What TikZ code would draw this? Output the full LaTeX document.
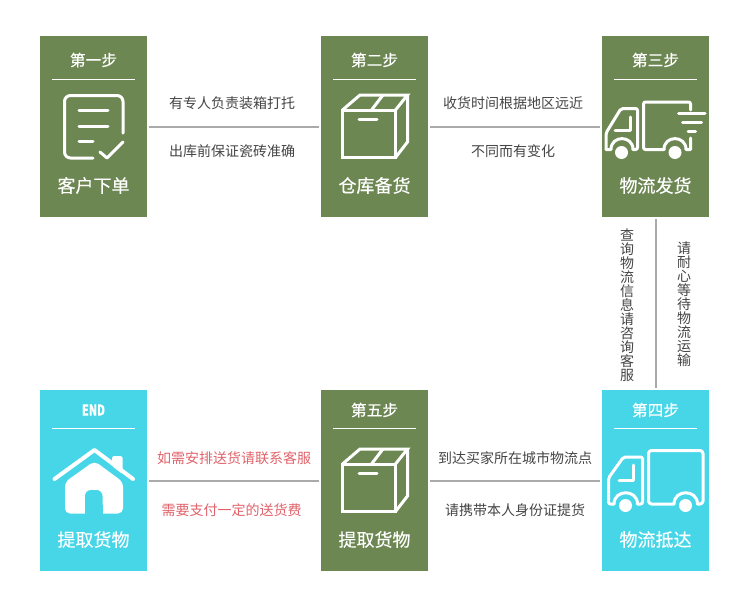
\documentclass[tikz,border=0pt]{standalone}
\usepackage{fontspec}
\setmainfont{Noto Sans CJK SC}
\newfontfamily\stepfont[FakeBold=0.2]{Noto Sans CJK SC}
\definecolor{stepgreen}{HTML}{6D8753}
\definecolor{stepcyan}{HTML}{47D6E8}
\definecolor{linkgray}{HTML}{AAAAAA}
\definecolor{notegray}{HTML}{444444}
\definecolor{notered}{HTML}{E0626A}
\tikzset{
    stepbox/.style={minimum width=107pt, minimum height=181pt, inner sep=0pt},
    titletext/.style={white, inner sep=0pt, font=\stepfont\fontsize{15.7}{15.7}\selectfont},
    labeltext/.style={white, inner sep=0pt, font=\stepfont\fontsize{18}{18}\selectfont},
    sepline/.style={white, line width=0.8pt},
    linkline/.style={linkgray, line width=2pt, shorten >=2pt, shorten <=2pt},
    notetext/.style={notegray, inner sep=0pt, font=\fontsize{14}{14}\selectfont},
    rednote/.style={notetext, text=notered},
    uptext/.style={notetext, align=center, font=\fontsize{14}{14}\selectfont},
    iconline/.style={white, line width=3pt, line cap=round, line join=round},
}
\begin{document}
\begin{tikzpicture}[x=1pt, y=-1pt]
    \useasboundingbox (0,0) rectangle (750,605);

    % Step boxes with title, rule and label
    \foreach \name/\xx/\yy/\col/\titley/\ruley/\boxtitle/\boxlabel in {
        stepa/93.5/126.5/stepgreen/60/79.5/第一步/客户下单,
        stepb/374.5/126.5/stepgreen/60/79.5/第二步/仓库备货,
        stepc/655.5/126.5/stepgreen/60/79.5/第三步/物流发货,
        stepd/655.5/480.5/stepcyan/410/428.5/第四步/物流抵达,
        stepe/374.5/480.5/stepgreen/410/428.5/第五步/提取货物,
        stepf/93.5/480.5/stepcyan/410/428.5/{\scalebox{0.72}[1]{\fontsize{15}{15}\selectfont\textbf{END}}}/提取货物%
    } {
        \node[stepbox, fill=\col] (\name) at (\xx,\yy) {};
        \node[titletext] (\name title) at (\xx,\titley) {\boxtitle};
        \node[labeltext] (\name label) at (\xx,\yy+59) {\boxlabel};
        \draw[sepline] (\xx-41.5,\ruley) -- (\xx+41.5,\ruley);
    }

    % Links between the steps
    \draw[linkline] (stepa) -- (stepb);
    \draw[linkline] (stepb) -- (stepc);
    \draw[linkline] (stepc) -- (stepd);
    \draw[linkline] (stepd) -- (stepe);
    \draw[linkline] (stepe) -- (stepf);

    % Notes on the links
    \node[notetext] (noteab) at (232,103) {有专人负责装箱打托};
    \node[notetext] (noteba) at (232,151) {出库前保证瓷砖准确};
    \node[notetext] (notebc) at (513,103) {收货时间根据地区远近};
    \node[notetext] (notecb) at (513,151) {不同而有变化};
    \node[notetext] (notede) at (515,458) {到达买家所在城市物流点};
    \node[notetext] (noteed) at (515,510) {请携带本人身份证提货};
    \node[rednote] (noteef) at (234,458) {如需安排送货请联系客服};
    \node[rednote] (notefe) at (231.5,510) {需要支付一定的送货费};
    \node[uptext] (notecd) at (627,305) {查\\询\\物\\流\\信\\息\\请\\咨\\询\\客\\服};
    \node[uptext] (notedc) at (684,304) {请\\耐\\心\\等\\待\\物\\流\\运\\输};

    % Order icon
    \draw[iconline, rounded corners=6pt] (123,133) -- (123,95.5) -- (64.5,95.5) -- (64.5,158) -- (93,158);
    \draw[iconline] (79,110.5) -- (108,110.5);
    \draw[iconline] (79,126) -- (108,126);
    \draw[iconline] (79,141.5) -- (93,141.5);
    \draw[iconline] (100,152) -- (107,158) -- (123,142);

    % Carton icons
    \foreach \dy in {0,354} {
        \begin{scope}[yshift=-\dy pt]
            \draw[iconline, line cap=butt, line join=miter] (342.5,110) rectangle (395.5,157.5);
            \draw[iconline, line cap=butt, line join=miter] (342.5,110) -- (360,95) -- (407.5,95) -- (395.5,110);
            \draw[iconline, line cap=butt, line join=miter] (407.5,95) -- (407.5,142) -- (395.5,157.5);
            \draw[iconline, line cap=butt] (371.5,110) -- (383,95);
            \draw[iconline] (359,119.5) -- (377,119.5);
        \end{scope}
    }

    % Moving truck icon
    \draw[iconline, rounded corners=2pt] (690.5,110) -- (690.5,102) -- (643.5,102) -- (643.5,149.5) -- (664,149.5);
    \draw[iconline] (664,149.5) .. controls (664,135) and (686,135) .. (686,149.5) -- (690.5,149.5) -- (690.5,138);
    \draw[iconline, rounded corners=2pt] (606,149.5) -- (606,133) -- (621,108.5) -- (637.5,108.5) -- (637.5,149.5) -- (633,149.5);
    \draw[iconline] (633,149.5) .. controls (633,135) and (611,135) .. (611,149.5) -- (606,149.5);
    \draw[iconline] (630,117) -- (630,130) -- (615,130);
    \fill[white] (621.5,152.5) circle[radius=6.5pt];
    \fill[white] (675,152.5) circle[radius=6.5pt];
    \draw[iconline] (678.5,113.5) -- (705,113.5);
    \draw[iconline] (682.5,122.5) -- (701.5,122.5);
    \draw[iconline] (688,131.5) -- (695.5,131.5);

    % Arrived truck icon
    \draw[iconline, rounded corners=3pt] (674,504) -- (648.5,504) -- (648.5,450.5) -- (703,450.5) -- (703,504) -- (697.5,504);
    \draw[iconline] (674,504) .. controls (674,489) and (697.5,489) .. (697.5,504);
    \draw[iconline, rounded corners=2pt] (614,504) -- (608.5,504) -- (608.5,478) -- (623.5,457) -- (642.5,457) -- (642.5,504) -- (637.5,504);
    \draw[iconline] (614,504) .. controls (614,489) and (637.5,489) .. (637.5,504);
    \draw[iconline] (633.5,465) -- (633.5,480) -- (619,480);
    \fill[white] (625.5,505.5) circle[radius=6.5pt];
    \fill[white] (685.5,505.5) circle[radius=6.5pt];

    % House icon
    \fill[white, rounded corners=5pt] (94.5,461) -- (65,482) -- (65,513.5) -- (123,513.5) -- (123,482) -- cycle;
    \fill[stepcyan, rounded corners=6pt] (85,514.5) -- (85,490) -- (102.5,490) -- (102.5,514.5);
    \fill[stepcyan] (85,505) rectangle (102.5,514);
    \draw[stepcyan, line width=7pt, line join=round] (54.5,479) -- (94.5,450) -- (133,479);
    \fill[white, rounded corners=1.5pt] (112,466) -- (112,456) -- (122.5,456) -- (122.5,474) -- cycle;
    \draw[white, line width=4pt, line cap=round, line join=round] (54.5,479) -- (94.5,450) -- (133,479);
\end{tikzpicture}
\end{document}
